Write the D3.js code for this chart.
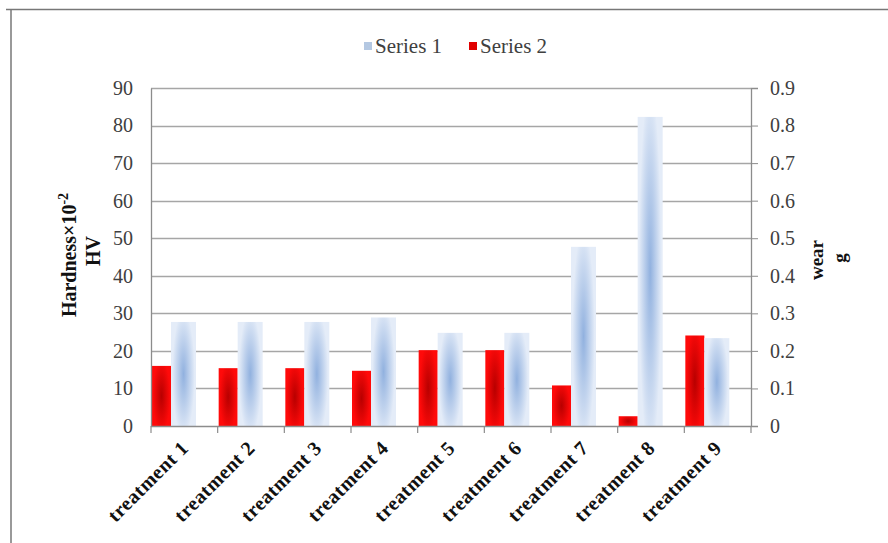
<!DOCTYPE html>
<html>
<head>
<meta charset="utf-8">
<script src="https://cdn.jsdelivr.net/npm/d3@7"></script>
<style>
  html, body { margin: 0; padding: 0; background: #fff; }
  svg { display: block; }
  text { font-family: "Liberation Serif", "DejaVu Serif", serif; }
</style>
</head>
<body>
<svg id="chart" width="888" height="543"></svg>
<script>
// Hardness (left axis) and wear (right axis) for each treatment
const categories = ["treatment 1", "treatment 2", "treatment 3", "treatment 4", "treatment 5",
                    "treatment 6", "treatment 7", "treatment 8", "treatment 9"];
const hardness = [27.7, 27.7, 27.7, 28.9, 24.8, 24.8, 47.7, 82.3, 23.4];           // Series 1, ×10^-2 HV
const wear = [0.160, 0.154, 0.154, 0.147, 0.202, 0.202, 0.108, 0.026, 0.241];      // Series 2, g
const leftTicks = [0, 10, 20, 30, 40, 50, 60, 70, 80, 90];
const rightTicks = [0, 0.1, 0.2, 0.3, 0.4, 0.5, 0.6, 0.7, 0.8, 0.9];
const seriesNames = ["Series 1", "Series 2"];

const svg = d3.select("#chart");
const plot = { left: 151, right: 751, top: 88, bottom: 426 };

// outer frame lines
svg.append("line").attr("x1", 6).attr("x2", 888).attr("y1", 9.5).attr("y2", 9.5)
  .attr("stroke", "#777").attr("stroke-width", 1.5);
svg.append("line").attr("x1", 11).attr("x2", 11).attr("y1", 9).attr("y2", 543)
  .attr("stroke", "#777").attr("stroke-width", 1.5);

const x = d3.scaleBand().domain(categories).range([plot.left, plot.right]).padding(0);
const yL = d3.scaleLinear().domain([0, 90]).range([plot.bottom, plot.top]);
const yR = d3.scaleLinear().domain([0, 0.9]).range([plot.bottom, plot.top]);

const defs = svg.append("defs");
const blueGrad = defs.append("radialGradient").attr("id", "blueFill")
  .attr("cx", "50%").attr("cy", "50%").attr("r", "60%")
  .attr("gradientTransform", "translate(0.5,0.5) scale(0.75,1) translate(-0.5,-0.5)");
blueGrad.append("stop").attr("offset", "0%").attr("stop-color", "#91b1df");
blueGrad.append("stop").attr("offset", "100%").attr("stop-color", "#e4ecf8");
const redGrad = defs.append("radialGradient").attr("id", "redFill")
  .attr("cx", "50%").attr("cy", "50%").attr("r", "60%")
  .attr("gradientTransform", "translate(0.5,0.5) scale(0.75,1) translate(-0.5,-0.5)");
redGrad.append("stop").attr("offset", "0%").attr("stop-color", "#b80000");
redGrad.append("stop").attr("offset", "100%").attr("stop-color", "#ff0a0a");

// horizontal gridlines
svg.append("g").selectAll("line").data(leftTicks.slice(1)).join("line")
  .attr("x1", plot.left).attr("x2", plot.right)
  .attr("y1", d => Math.round(yL(d)) + 0.5).attr("y2", d => Math.round(yL(d)) + 0.5)
  .attr("stroke", "#a6a6a6").attr("stroke-width", 1.3);

// bars
const redW = 19, blueW = 25;
svg.append("g").selectAll("rect").data(wear).join("rect")
  .attr("x", (d, i) => x(categories[i]) + 1)
  .attr("width", redW)
  .attr("y", d => yR(d)).attr("height", d => yR(0) - yR(d))
  .attr("fill", "url(#redFill)");
svg.append("g").selectAll("rect").data(hardness).join("rect")
  .attr("x", (d, i) => x(categories[i]) + 1 + redW)
  .attr("width", blueW)
  .attr("y", d => yL(d)).attr("height", d => yL(0) - yL(d))
  .attr("fill", "url(#blueFill)");

// left axis
const axL = svg.append("g").attr("transform", `translate(${plot.left},0)`)
  .call(d3.axisLeft(yL).tickValues(leftTicks).tickSize(0).tickPadding(18));
axL.select(".domain").attr("stroke", "#8c8c8c").attr("stroke-width", 1.3);
axL.selectAll("text").attr("font-size", 20).attr("fill", "#404040");

// right axis
const axR = svg.append("g").attr("transform", `translate(${plot.right},0)`)
  .call(d3.axisRight(yR).tickValues(rightTicks).tickSize(7).tickPadding(12)
    .tickFormat(d => d === 0 ? "0" : d3.format(".1f")(d)));
axR.select(".domain").attr("stroke", "#8c8c8c").attr("stroke-width", 1.3);
axR.selectAll("line").attr("stroke", "#8c8c8c");
axR.selectAll("text").attr("font-size", 20).attr("fill", "#404040");

// bottom axis with boundary ticks between categories
const axB = svg.append("g");
axB.append("line").attr("x1", plot.left).attr("x2", plot.right)
  .attr("y1", plot.bottom + 0.5).attr("y2", plot.bottom + 0.5)
  .attr("stroke", "#8c8c8c").attr("stroke-width", 1.3);
const bounds = categories.map(c => x(c)).concat([plot.right]);
axB.selectAll("line.tick").data(bounds).join("line").attr("class", "tick")
  .attr("x1", d => d).attr("x2", d => d)
  .attr("y1", plot.bottom).attr("y2", plot.bottom + 7)
  .attr("stroke", "#8c8c8c").attr("stroke-width", 1.2);
axB.selectAll("text").data(categories).join("text")
  .attr("transform", d => `translate(${x(d) + x.bandwidth() / 2 + 2},${plot.bottom + 20}) rotate(-45)`)
  .attr("text-anchor", "end").attr("dominant-baseline", "middle")
  .attr("font-size", 20).attr("font-weight", "bold").attr("fill", "#111")
  .attr("letter-spacing", 0.5)
  .text(d => d);

// axis titles
const tl = svg.append("text").attr("transform", "translate(76,255) rotate(-90)")
  .attr("text-anchor", "middle").attr("font-size", 20).attr("font-weight", "bold").attr("fill", "#111");
tl.append("tspan").text("Hardness×10");
tl.append("tspan").attr("dy", -8).attr("font-size", 14).text("-2");
svg.append("text").attr("transform", "translate(100,251) rotate(-90)")
  .attr("text-anchor", "middle").attr("font-size", 20).attr("font-weight", "bold").attr("fill", "#111")
  .text("HV");
svg.append("text").attr("transform", "translate(823,260) rotate(-90)")
  .attr("text-anchor", "middle").attr("font-size", 19).attr("font-weight", "bold").attr("fill", "#111")
  .text("wear");
svg.append("text").attr("transform", "translate(846,258) rotate(-90)")
  .attr("text-anchor", "middle").attr("font-size", 19).attr("font-weight", "bold").attr("fill", "#111")
  .text("g");

// legend
const legend = svg.append("g");
const legendItems = [
  { name: seriesNames[0], color: "#b4c8e2", x: 364 },
  { name: seriesNames[1], color: "#e00000", x: 469 }
];
legend.selectAll("rect").data(legendItems).join("rect")
  .attr("x", d => d.x).attr("y", 42).attr("width", 8).attr("height", 8)
  .attr("fill", d => d.color);
legend.selectAll("text").data(legendItems).join("text")
  .attr("x", d => d.x + 11).attr("y", 53)
  .attr("font-size", 21).attr("fill", "#404040")
  .text(d => d.name);
</script>
</body>
</html>
